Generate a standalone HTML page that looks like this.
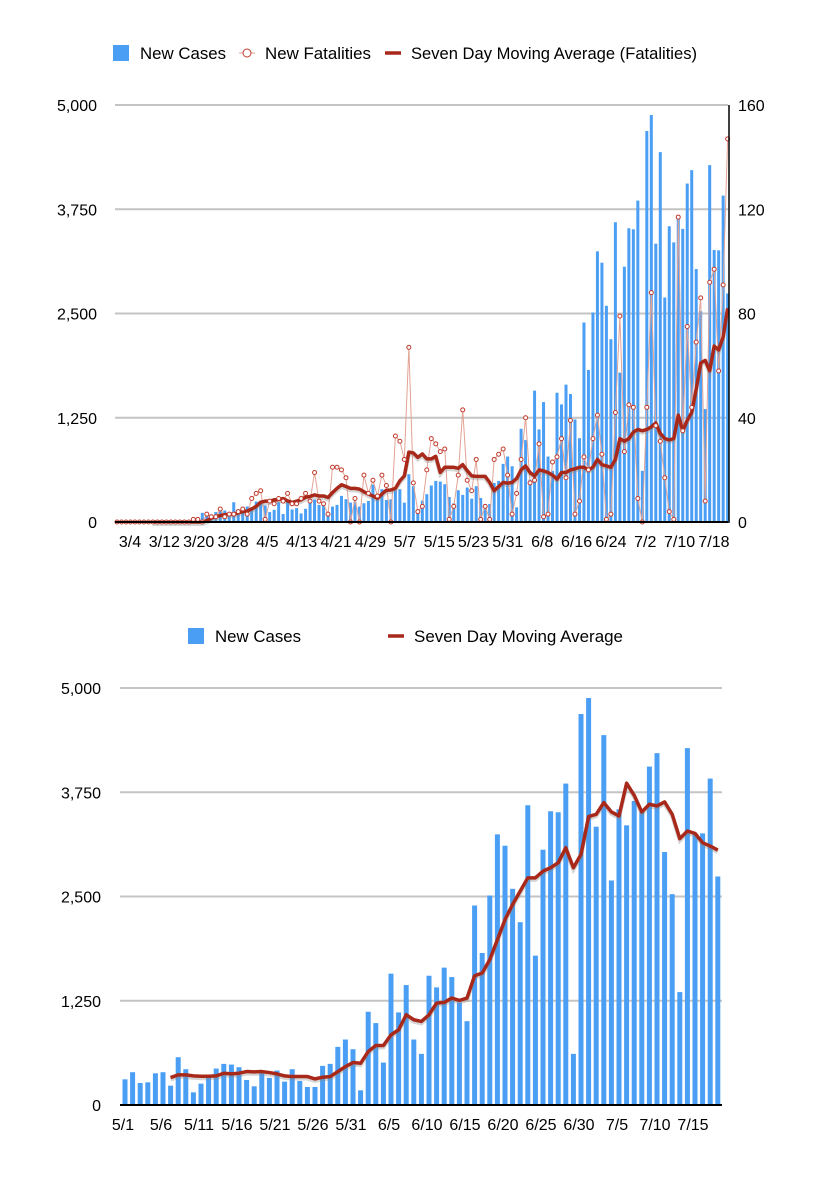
<!DOCTYPE html>
<html><head><meta charset="utf-8">
<style>
html,body{margin:0;padding:0;background:#fff;}
svg{display:block;font-family:"Liberation Sans",Arial,sans-serif;}
</style></head>
<body>
<svg id="chart" width="814" height="1200" viewBox="0 0 814 1200"></svg>
<script>
// ---------- TOP CHART DATA (index 0 = 3/4, last = 7/18) ----------
const topTickLabels = ["3/4","3/12","3/20","3/28","4/5","4/13","4/21","4/29","5/7","5/15","5/23","5/31","6/8","6/16","6/24","7/2","7/10","7/18"];
const leftTicks = [0,1250,2500,3750,5000];
const leftTickLabels = ["0","1,250","2,500","3,750","5,000"];
const rightTicks = [0,40,80,120,160];
const earlyCases = [0,0,0,0,0,0,0,0,0,0,0,0,0,0,0,0,0,15,30,
  110,80,87,119,127,138,80,237,127,150,186,178,245,245,198,119,146,237,95,269,150,166,103,158,237,269,
  205,233,120,185,205,313,273,233,241,185,225,253,450];
const mayJulCases = [308,393,264,272,380,393,232,573,429,152,256,333,437,493,485,453,300,224,380,325,413,280,429,288,216,216,469,493,697,785,669,176,1118,982,509,1575,1110,1438,785,613,1550,1410,1647,1534,1230,1005,2392,1823,2512,3245,3109,2592,2192,3594,1791,3061,3522,3510,3854,613,4688,4880,3337,4435,2692,3546,3353,3646,3514,4058,4219,3033,2528,1354,4279,3261,3257,3914,2740];
const fatalities = [0,0,0,0,0,0,0,0,0,0,0,0,0,0,0,0,0,1,1,0,3,2,2,5,2,3,3,4,5,3,9,11,12,1,8,7,9,8,11,7,7,9,11,8,19,8,7,3,21,21,20,17,0,9,0,18,11,16,10,18,14,0,33,31,24,67,15,4,6,20,32,30,27,28,1,6,18,43,16,12,24,1,6,1,24,26,28,18,3,11,24,40,15,16,30,2,3,23,25,32,17,39,3,8,25,20,32,41,26,1,3,42,79,27,45,44,9,0,44,88,37,31,17,4,1,117,35,75,44,69,86,8,92,97,58,91,147];
const fatalMA = [null,null,null,null,null,null,null,null,0,0,0,0,0,0,0,0,0,0,0,0,0.5,1.5,2,2.5,2.8,3,3,3.5,4,4.2,5,6,7.6,8,8,8.5,8.6,9,8.1,7.5,8,8.5,9.5,9.8,10.4,10,10,9.4,11.3,12.9,14.3,13.6,12.9,12.9,12.6,11.6,10.7,10,9.1,10.7,12.2,12.3,12.9,15.8,17.7,26.8,26.5,24.8,26.1,24.2,24.2,25.2,19,21,21,21,20.6,22,19.7,17.7,17.5,17.5,17.5,15.2,12,13.6,15.2,14.9,15.2,16.7,20,21.5,19,17.6,20,19.6,19,18,16.4,19,19,20,20.4,21,21,20,21,24,22,21.5,21,24,32,31,32,34.5,35.5,35,35.5,36.5,38,34,32,31.5,32,41,35,39,42,51,61,62,58,67.5,66,71,82];
const topCases = earlyCases.concat(mayJulCases);

// ---------- BOTTOM CHART DATA (index 0 = 5/1) ----------
const botTickLabels = ["5/1","5/6","5/11","5/16","5/21","5/26","5/31","6/5","6/10","6/15","6/20","6/25","6/30","7/5","7/10","7/15"];
const botCases = mayJulCases;
const botMA = [null,null,null,null,null,null,329,361,361,349,345,345,349,381,373,381,401,397,401,389,373,349,341,341,341,313,333,341,400,460,509,500,641,713,713,841,901,1082,1022,1002,1082,1222,1230,1282,1254,1282,1550,1582,1743,1983,2223,2404,2564,2724,2724,2804,2845,2905,3085,2845,3005,3458,3486,3626,3514,3466,3858,3714,3514,3606,3586,3634,3486,3193,3285,3257,3145,3105,3057];

const NS="http://www.w3.org/2000/svg";
const svg=document.getElementById('chart');
function mk(tag,attrs,parent){const e=document.createElementNS(NS,tag);for(const k in attrs)e.setAttribute(k,attrs[k]);(parent||svg).appendChild(e);return e;}
function txt(s,attrs,parent){const e=mk('text',attrs,parent);e.textContent=s;return e;}
const BLUE="#4a9ff5", RED="#a8281a", GRID="#c4c4c4";

// ---------- TOP CHART ----------
const T={left:115,right:728,top:105,bottom:522,x0:117,dx:4.49};
const tx=i=>T.x0+i*T.dx;
const tyL=v=>T.bottom-(v/5000)*(T.bottom-T.top);
const tyR=v=>T.bottom-(v/160)*(T.bottom-T.top);
const gTop=mk('g',{});


leftTicks.forEach((v,i)=>{
  if(v>0){const l=mk('line',{x1:T.left,x2:T.right,y1:tyL(v),y2:tyL(v),stroke:GRID,'stroke-width':2},gTop);
  
  }
  const t=txt(leftTickLabels[i],{x:97,y:tyL(v)+6,'text-anchor':'end','font-size':16,fill:'#000'},gTop);
  
  
});
rightTicks.forEach(v=>{
  const t=txt(String(v),{x:738,y:tyR(v)+6,'font-size':16,fill:'#000'},gTop);
  
  
});
topCases.forEach((v,i)=>{
  if(v<=0)return;
  const r=mk('rect',{x:tx(i)-1.5,y:tyL(v),width:3,height:T.bottom-tyL(v),fill:BLUE},gTop);
  
  
});
const fl=mk('polyline',{points:fatalities.map((v,i)=>tx(i)+','+tyR(v)).join(' '),fill:'none',stroke:'#e2a395','stroke-width':1},gTop);


function maPts(arr,xf,yf){return arr.map((v,i)=>v==null?null:xf(i)+','+yf(v)).filter(p=>p).join(' ');}
const sh=mk('polyline',{points:maPts(fatalMA,tx,v=>tyR(v)+2),fill:'none',stroke:'#888','stroke-opacity':0.35,'stroke-width':4},gTop);


const ma=mk('polyline',{points:maPts(fatalMA,tx,tyR),fill:'none',stroke:RED,'stroke-width':3.5,'stroke-linejoin':'round'},gTop);


fatalities.forEach((v,i)=>{
  const c=mk('circle',{cx:tx(i),cy:tyR(v),r:2,fill:'#fff',stroke:'#c0392b','stroke-width':1},gTop);
  
  
});
const tb=mk('line',{x1:T.left,x2:T.right,y1:T.bottom,y2:T.bottom,stroke:'#000','stroke-width':2},gTop);


const tr=mk('line',{x1:T.right+1,x2:T.right+1,y1:T.top,y2:T.bottom+1,stroke:'#000','stroke-width':1.5},gTop);


topTickLabels.forEach((s,i)=>{
  const t=txt(s,{x:130+i*34.35,y:547,'text-anchor':'middle','font-size':16,fill:'#000'},gTop);
  
  
});
// top legend
const lg=mk('g',{},gTop);


const l1=mk('rect',{x:113,y:45,width:16,height:16,fill:BLUE},lg);


const l1t=txt('New Cases',{x:140,y:59,'font-size':17,textLength:86,lengthAdjust:'spacingAndGlyphs'},lg);


mk('line',{x1:239,x2:255,y1:53,y2:53,stroke:'#e2a395','stroke-width':1},lg);
const l2=mk('circle',{cx:247,cy:53,r:4,fill:'#fff',stroke:'#c0392b','stroke-width':1},lg);


const l2t=txt('New Fatalities',{x:265,y:59,'font-size':17,textLength:106,lengthAdjust:'spacingAndGlyphs'},lg);


const l3=mk('line',{x1:385,x2:401,y1:53,y2:53,stroke:RED,'stroke-width':3.5},lg);


const l3t=txt('Seven Day Moving Average (Fatalities)',{x:411,y:59,'font-size':17,textLength:286,lengthAdjust:'spacingAndGlyphs'},lg);



// ---------- BOTTOM CHART ----------
const B={left:120,right:722,top:688,bottom:1105,x0:125,dx:7.6};
const bx=i=>B.x0+i*B.dx;
const by=v=>B.bottom-(v/5000)*(B.bottom-B.top);
const gBot=mk('g',{});


leftTicks.forEach((v,i)=>{
  if(v>0){const l=mk('line',{x1:B.left,x2:B.right,y1:by(v),y2:by(v),stroke:GRID,'stroke-width':2},gBot);
  
  }
  const t=txt(leftTickLabels[i],{x:101,y:by(v)+6,'text-anchor':'end','font-size':16},gBot);
  
  
});
botCases.forEach((v,i)=>{
  const r=mk('rect',{x:bx(i)-2.5,y:by(v),width:5,height:B.bottom-by(v),fill:BLUE},gBot);
  
  
});
const bsh=mk('polyline',{points:maPts(botMA,bx,v=>by(v)+2),fill:'none',stroke:'#888','stroke-opacity':0.35,'stroke-width':4},gBot);


const bma=mk('polyline',{points:maPts(botMA,bx,by),fill:'none',stroke:RED,'stroke-width':3.5,'stroke-linejoin':'round'},gBot);


const bb=mk('line',{x1:B.left,x2:B.right,y1:B.bottom,y2:B.bottom,stroke:'#000','stroke-width':2},gBot);


botTickLabels.forEach((s,i)=>{
  const t=txt(s,{x:bx(i*5)-2,y:1130,'text-anchor':'middle','font-size':16},gBot);
  
  
});
const bl=mk('g',{},gBot);


const b1=mk('rect',{x:188,y:628,width:16,height:16,fill:BLUE},bl);


const b1t=txt('New Cases',{x:215,y:642,'font-size':17,textLength:86,lengthAdjust:'spacingAndGlyphs'},bl);


const b2=mk('line',{x1:388,x2:404,y1:636,y2:636,stroke:RED,'stroke-width':3.5},bl);


const b2t=txt('Seven Day Moving Average',{x:414,y:642,'font-size':17,textLength:209,lengthAdjust:'spacingAndGlyphs'},bl);


</script>
</body></html>
